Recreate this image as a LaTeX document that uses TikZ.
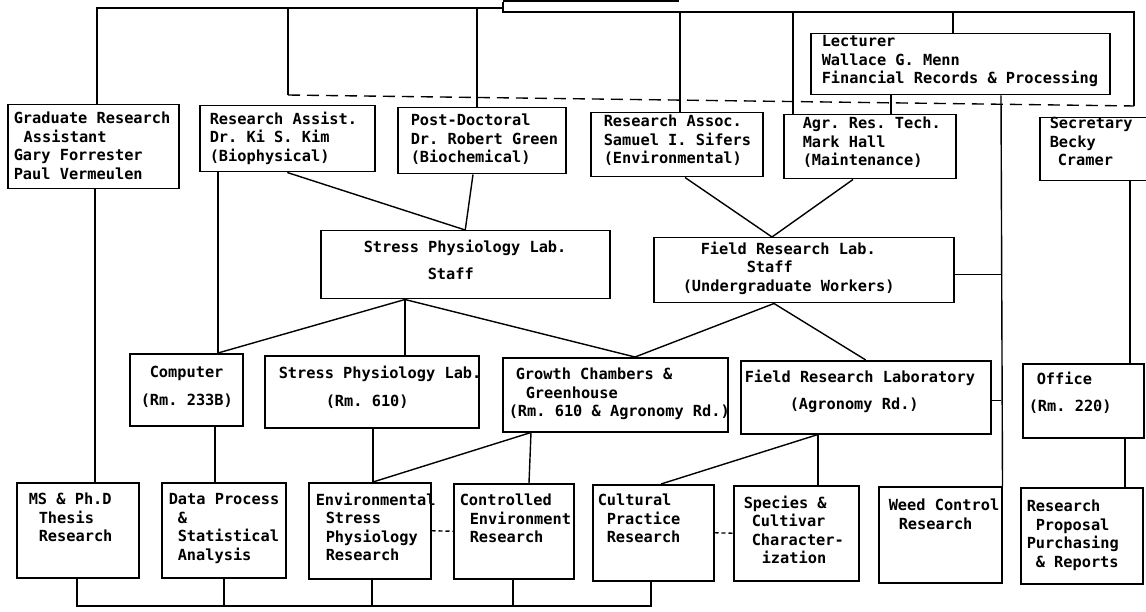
\documentclass[tikz,border=0pt]{standalone}
\usepackage{fontspec}
\setmonofont{DejaVu Sans Mono}
\frenchspacing
\newcommand\lnx[2]{\hspace*{#1pt}\rlap{#2}}
% name, x1, y1, x2, y2, first-baseline offset, lines
\newcommand\mkbox[7]{%
  \node[bx, anchor=north west] (#1) at (#2,#3)
   {\parbox[c][\dimexpr #5pt-#3pt\relax][t]{\dimexpr #4pt-#2pt\relax}{\vspace*{\dimexpr #6pt-12pt\relax}\rule{0pt}{12pt}#7}};}
\begin{document}
\begin{tikzpicture}[x=1pt,y=-1pt,
  bx/.style={draw, line width=1.5pt, inner sep=0pt, font=\ttfamily\bfseries\fontsize{15.3}{18.5}\selectfont\frenchspacing},
  cn/.style={line width=1.4pt},
  dashlong/.style={cn, dash pattern=on 12pt off 7pt},
  dashshort/.style={cn, dash pattern=on 4pt off 3pt}]
\useasboundingbox (0,0) rectangle (1146,612);
\clip (0,0) rectangle (1146,612);
\fill[white] (0,0) rectangle (1146,612);

% partly visible head box
\node[draw, line width=1.5pt, anchor=south west, minimum width=174pt, minimum height=40pt, inner sep=0pt] (top) at (503,2) {};

% boxes
\mkbox{grad}{7}{104}{178}{188}{19}{\lnx{6}{Graduate Research}\\\lnx{16}{Assistant}\\\lnx{6}{Gary Forrester}\\\lnx{6}{Paul Vermeulen}}
\mkbox{ra}{199}{105}{374}{171}{18}{\lnx{10}{Research Assist.}\\\lnx{10}{Dr. Ki S. Kim}\\\lnx{10}{(Biophysical)}}
\mkbox{pd}{397}{107}{565}{173}{18}{\lnx{13}{Post-Doctoral}\\\lnx{13}{Dr. Robert Green}\\\lnx{13}{(Biochemical)}}
\mkbox{rassoc}{590}{112}{762}{176}{14}{\lnx{13}{Research Assoc.}\\\lnx{13}{Samuel I. Sifers}\\\lnx{13}{(Environmental)}}
\mkbox{agr}{783}{114}{955}{178}{14}{\lnx{19}{Agr. Res. Tech.}\\\lnx{19}{Mark Hall}\\\lnx{19}{(Maintenance)}}
\mkbox{lect}{810}{33}{1109}{94}{13}{\lnx{11}{Lecturer}\\\lnx{11}{Wallace G. Menn}\\\lnx{11}{Financial Records \& Processing}}
\mkbox{sec}{1039}{117}{1152}{180}{11}{\lnx{10}{Secretary}\\\lnx{10}{Becky}\\\lnx{18}{Cramer}}
\mkbox{sstaff}{320}{230}{609}{298}{21}{\lnx{43}{Stress Physiology Lab.}\\[8.5pt]\lnx{107}{Staff}}
\mkbox{fstaff}{653}{237}{953}{302}{16}{\lnx{47}{Field Research Lab.}\\\lnx{93}{Staff}\\\lnx{29}{(Undergraduate Workers)}}
\mkbox{comp}{129}{353}{242}{425}{24}{\lnx{20}{Computer}\\[9.5pt]\lnx{11}{(Rm. 233B)}}
\mkbox{slab}{264}{355}{478}{427}{22}{\lnx{14}{Stress Physiology Lab.}\\[9.5pt]\lnx{61}{(Rm. 610)}}
\mkbox{grow}{502}{357}{727}{431}{22}{\lnx{13}{Growth Chambers \&}\\\lnx{23}{Greenhouse}\\\lnx{6}{(Rm. 610 \& Agronomy Rd.)}}
\mkbox{flab}{740}{360}{990}{433}{21}{\lnx{4}{Field Research Laboratory}\\[8.5pt]\lnx{49}{(Agronomy Rd.)}}
\mkbox{office}{1022}{363}{1143}{437}{20}{\lnx{14}{Office}\\[8.5pt]\lnx{6}{(Rm. 220)}}
\mkbox{ms}{16}{482}{138}{577}{22}{\lnx{12}{MS \& Ph.D}\\\lnx{22}{Thesis}\\\lnx{22}{Research}}
\mkbox{data}{161}{482}{285}{577}{22}{\lnx{7}{Data Process}\\\lnx{16}{\&}\\\lnx{16}{Statistical}\\\lnx{16}{Analysis}}
\mkbox{env}{308}{482}{430}{578}{22}{\lnx{7}{Environmental}\\\lnx{17}{Stress}\\\lnx{17}{Physiology}\\\lnx{17}{Research}}
\mkbox{ctrl}{453}{483}{573}{578}{22}{\lnx{6}{Controlled}\\\lnx{16}{Environment}\\\lnx{16}{Research}}
\mkbox{cult}{592}{484}{713}{580}{21}{\lnx{5}{Cultural}\\\lnx{14}{Practice}\\\lnx{14}{Research}}
\mkbox{spec}{733}{485}{858}{580}{22}{\lnx{10}{Species \&}\\\lnx{18}{Cultivar}\\\lnx{18}{Character-}\\\lnx{28}{ization}}
\mkbox{weed}{878}{486}{1001}{582}{24}{\lnx{10}{Weed Control}\\\lnx{20}{Research}}
\mkbox{rp}{1020}{487}{1142}{583}{24}{\lnx{6}{Research}\\\lnx{15}{Proposal}\\\lnx{6}{Purchasing}\\\lnx{15}{\& Reports}}

% top bus
\coordinate (bL) at (97,8);
\coordinate (bM) at (503,8);
\coordinate (bM2) at (503,12);
\coordinate (bR) at (1134,12);
\coordinate (dL) at (288,95);
\coordinate (dR) at (1134,106);
\coordinate (vr) at (1001,0);
\draw[cn] (grad.north -| bL) -- (bL) -- (bM);
\draw[cn] (top.south west) -- (bM2) -- (bR) -- (dR);
\draw[cn] (bL -| dL) -- (dL);
\draw[dashlong] (dL) -- (dR);
\draw[cn] (bL -| 477,0) -- (pd.north -| 477,0);
\draw[cn] (bR -| 680,0) -- (rassoc.north -| 680,0);
\draw[cn] (bR -| 793,0) -- (agr.north -| 793,0);
\draw[cn] (bR -| 953,0) -- (lect.north -| 953,0);
\draw[cn] (lect.south -| 891,0) -- (agr.north -| 891,0);
\draw[cn] (lect.south -| vr) -- (weed.north east);
\coordinate (fsx) at ([yshift=-4.5pt]fstaff.east);
\draw[cn] (fsx) -- (fsx -| vr);
\coordinate (flx) at ([yshift=-3.5pt]flab.east);
\draw[cn] (flx) -- (flx -| vr);
\draw[cn] (sec.south -| 1130,0) -- (office.north -| 1130,0);
\draw[cn] (office.south -| 1125,0) -- (rp.north -| 1125,0);

% middle
\draw[cn] (ra.south) -- (sstaff.north);
\draw[cn] (pd.south -| 473,0) -- (sstaff.north);
\draw[cn] (ra.south -| 218,0) -- (comp.north -| 218,0);
\coordinate (sb) at (sstaff.south -| 405,0);
\draw[cn] (sb) -- (comp.north -| 218,0);
\draw[cn] (sb) -- (slab.north -| sb);
\draw[cn] (sb) -- (grow.north -| 635,0);
\draw[cn] (rassoc.south -| 685,0) -- (fstaff.north -| 772,0);
\draw[cn] (agr.south -| 853,0) -- (fstaff.north -| 772,0);
\coordinate (fb) at (fstaff.south -| 774,0);
\draw[cn] (fb) -- (grow.north -| 635,0);
\draw[cn] (fb) -- (flab.north);

% lower
\draw[cn] (grad.south -| 95,0) -- (ms.north -| 95,0);
\draw[cn] (comp.south -| 215,0) -- (data.north -| 215,0);
\draw[cn] (slab.south -| 373,0) -- (env.north -| 373,0);
\coordinate (gb) at (grow.south -| 531,0);
\draw[cn] (gb) -- (env.north -| 373,0);
\draw[cn] (gb) -- (ctrl.north -| 529,0);
\coordinate (lb) at (flab.south -| 818,0);
\draw[cn] (lb) -- (cult.north -| 661,0);
\draw[cn] (lb) -- (spec.north -| 818,0);
\draw[dashshort] (env.east) -- (ctrl.west);
\draw[dashshort] (cult.east) -- (spec.west);

% bottom bus
\coordinate (bb) at (0,606);
\draw[cn] (ms.south -| 77,0) -- (bb -| 77,0) -- (bb -| 651,0) -- (cult.south -| 651,0);
\draw[cn] (data.south -| 224,0) -- (bb -| 224,0);
\draw[cn] (env.south -| 372,0) -- (bb -| 372,0);
\draw[cn] (ctrl.south -| 513,0) -- (bb -| 513,0);
\end{tikzpicture}
\end{document}
